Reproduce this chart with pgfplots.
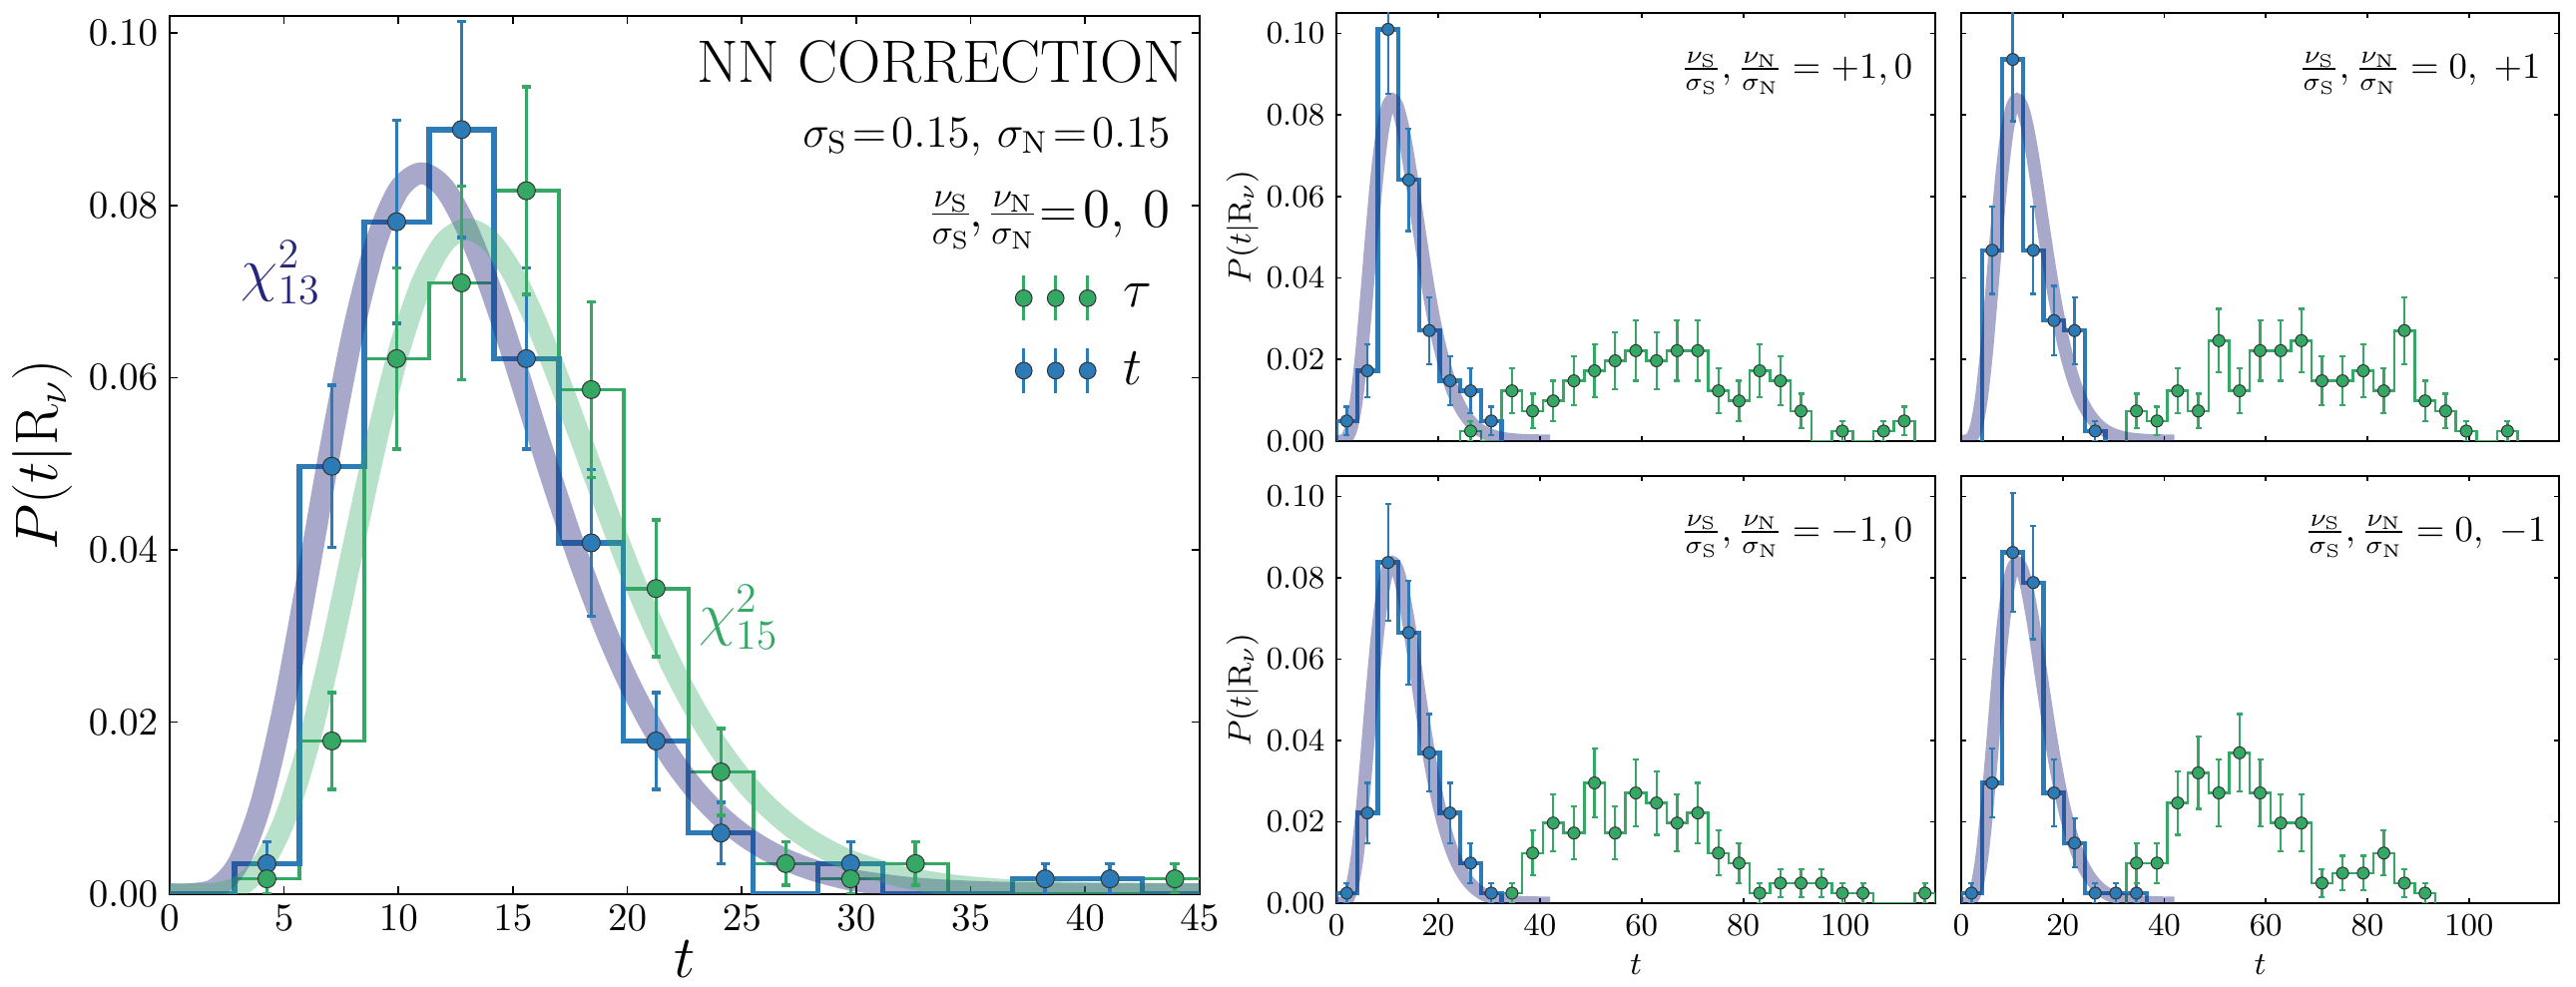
\RequirePackage{fix-cm}
\documentclass[border=0pt]{standalone}
\usepackage{pgfplots}
\usepackage{pgfplotstable}
\pgfplotsset{compat=1.18}

\definecolor{tblue}{RGB}{44,123,182}
\definecolor{tgreen}{RGB}{52,168,100}
\definecolor{chinavy}{RGB}{38,38,125}

% chi-squared densities for k = 13 and k = 15
\pgfplotstableread{
x f13 f15
0 0 0
1 0.0000233 0.0000018
2 0.000639 0.0000984
3 0.00360 0.000832
4 0.01064 0.00327
5 0.02200 0.00846
6 0.03639 0.01680
7 0.05150 0.02773
8 0.06515 0.04009
9 0.07555 0.05229
10 0.08178 0.06292
11 0.08374 0.07087
12 0.08199 0.07571
13 0.07722 0.07724
14 0.07045 0.07586
15 0.06248 0.07208
16 0.05398 0.06647
17 0.04572 0.05978
18 0.03797 0.05260
19 0.03099 0.04533
20 0.02492 0.03834
21 0.01979 0.03194
22 0.01550 0.02623
23 0.01200 0.02124
24 0.00920 0.01699
25 0.00698 0.01343
26 0.00526 0.01051
27 0.00392 0.00815
28 0.00290 0.00625
29 0.00214 0.00477
30 0.00156 0.00360
32 0.00082 0.00202
34 0.00042 0.00110
36 0.00021 0.000587
38 0.000105 0.000307
40 0.000051 0.000158
42 0.0000247 0.0000797
45 0.000008 0.0000279
}\chidens

\pgfplotsset{
  frame/.style={scale only axis, tick align=inside, axis line style={line width=0.8pt},
    tick style={black, line width=0.5pt}, scaled y ticks=false, clip=true,
    yticklabel style={/pgf/number format/.cd, fixed, fixed zerofill, precision=2}},
  panel/.style={frame, width=180pt, height=128.7pt, xmin=0, xmax=117.74, ymin=0, ymax=0.105,
    xtick={0,20,40,60,80,100}, ytick={0,0.02,0.04,0.06,0.08,0.1}, major tick length=1.6pt,
    ticklabel style={font=\fontsize{9.6}{11}\selectfont},
    label style={font=\fontsize{9.6}{11}\selectfont},
    ylabel style={at={(axis description cs:-0.157,0.5)}, anchor=center},
    xlabel style={at={(axis description cs:0.5,-0.143)}, anchor=center}},
  stepb/.style={const plot, mark=none, tblue, line width=#1},
  stepg/.style={const plot, mark=none, tgreen, line width=#1},
  pts/.style n args={4}{only marks, #1, mark=*, mark size=#2,
    mark options={fill=#1, draw=black!80, line width=0.3pt},
    error bars/y dir=both, error bars/y explicit,
    error bars/error bar style={line width=#3, #1},
    error bars/error mark options={rotate=90, #1, mark size=#4, line width=#3}},
  chiband/.style={mark=none, smooth, tension=0.5, line width=#1, opacity=0.4, chinavy},
}
\newcommand{\teq}{\mathrel{\!=\!}}

\begin{document}
\begin{tikzpicture}
\path[use as bounding box] (0,0) rectangle (774.3pt,296.7pt);

% ---------------- main panel ----------------
\begin{axis}[frame, at={(51pt,27.9pt)}, anchor=south west, width=309.6pt, height=264pt,
  xmin=0, xmax=45, ymin=0, ymax=0.102,
  xtick={0,5,10,15,20,25,30,35,40,45}, ytick={0,0.02,0.04,0.06,0.08,0.1},
  major tick length=2.4pt,
  ticklabel style={font=\fontsize{11.7}{14}\selectfont},
  xlabel={$t$}, ylabel={$P(t|\mathrm{R}_\nu)$},
  label style={font=\fontsize{18}{20}\selectfont},
  ylabel style={at={(axis description cs:-0.124,0.5)}, anchor=center},
  xlabel style={at={(axis description cs:0.5,-0.074)}, anchor=center, inner sep=0pt},
  legend style={draw=none, fill=none, at={(0.820,0.707)}, anchor=north west,
    inner sep=0pt, row sep=6.8pt, column sep=6pt, font=\fontsize{16}{18}\selectfont},
  legend cell align=left]

\addlegendimage{legend image code/.code={
  \draw[tgreen, line width=1pt] (0pt,-6.8pt) -- (0pt,6.8pt) (9.6pt,-6.8pt) -- (9.6pt,6.8pt) (19.2pt,-6.8pt) -- (19.2pt,6.8pt);
  \filldraw[fill=tgreen, draw=black!80, line width=0.3pt] (0pt,0pt) circle (2.5pt) (9.6pt,0pt) circle (2.5pt) (19.2pt,0pt) circle (2.5pt);}}
\addlegendentry{$\tau$}
\addlegendimage{legend image code/.code={
  \draw[tblue, line width=1pt] (0pt,-6.8pt) -- (0pt,6.8pt) (9.6pt,-6.8pt) -- (9.6pt,6.8pt) (19.2pt,-6.8pt) -- (19.2pt,6.8pt);
  \filldraw[fill=tblue, draw=black!80, line width=0.3pt] (0pt,0pt) circle (2.5pt) (9.6pt,0pt) circle (2.5pt) (19.2pt,0pt) circle (2.5pt);}}
\addlegendentry{$t$}

% tau histogram (step outline)
\addplot[stepg=1.1pt] table {
0 0
2.833 0.00178
5.667 0.0178
8.5 0.0622
11.333 0.0710
14.167 0.0817
17 0.0586
19.833 0.0355
22.667 0.0142
25.5 0.00355
28.333 0.00178
31.167 0.00355
34 0
42.5 0.00178
45.333 0
};
% t histogram (step outline)
\addplot[stepb=1.6pt] table {
0 0
2.833 0.00355
5.667 0.0497
8.5 0.0781
11.333 0.0888
14.167 0.0622
17 0.0408
19.833 0.0178
22.667 0.0071
25.5 0
28.333 0.00355
31.167 0
36.833 0.00178
39.667 0.00178
42.5 0
45.333 0
};
% chi-squared reference curves
\addplot[chiband=6.5pt] table[x=x, y=f13] {\chidens};
\addplot[chiband=6.5pt, tgreen, opacity=0.35] table[x=x, y=f15] {\chidens};

% bin contents with Poisson errors
\addplot[pts={tblue}{2.7pt}{1.05pt}{1.4pt}] table[y error index=2] {
4.25 0.00355 0.00251
7.083 0.0497 0.0094
9.917 0.0781 0.01178
12.75 0.0888 0.01256
15.583 0.0622 0.01051
18.417 0.0408 0.00852
21.25 0.0178 0.00562
24.083 0.0071 0.00355
29.75 0.00355 0.00251
38.25 0.00178 0.00178
41.083 0.00178 0.00178
};
\addplot[pts={tgreen}{2.7pt}{1.05pt}{1.4pt}] table[y error index=2] {
4.25 0.00178 0.00178
7.083 0.0178 0.00562
9.917 0.0622 0.01051
12.75 0.0710 0.01123
15.583 0.0817 0.01205
18.417 0.0586 0.0102
21.25 0.0355 0.00794
24.083 0.0142 0.00502
26.917 0.00355 0.00251
29.75 0.00178 0.00178
32.583 0.00355 0.00251
43.917 0.00178 0.00178
};

\node[anchor=east, inner sep=0pt, font=\fontsize{18}{20}\selectfont] at (rel axis cs:0.986,0.948) {NN CORRECTION};
\node[anchor=base east, inner sep=0pt, font=\fontsize{13.5}{15}\selectfont] at (rel axis cs:0.972,0.851) {$\sigma_{\mathrm{S}}\teq0.15,\,\sigma_{\mathrm{N}}\teq0.15$};
\node[anchor=base east, inner sep=0pt, font=\fontsize{15}{17}\selectfont] at (rel axis cs:0.972,0.760) {\nulldelimiterspace=0pt$\frac{\nu_{\mathrm{S}}}{\sigma_{\mathrm{S}}},\frac{\nu_{\mathrm{N}}}{\sigma_{\mathrm{N}}}\teq{}$\fontsize{16.5}{18}\selectfont$0,\,0$};
\node[anchor=west, inner sep=0pt, text=chinavy, font=\fontsize{18}{20}\selectfont] at (axis cs:3.1,0.0722) {$\chi^2_{13}$};
\node[anchor=west, inner sep=0pt, text=tgreen, font=\fontsize{18}{20}\selectfont] at (axis cs:23.1,0.0322) {$\chi^2_{15}$};
\end{axis}

% ---------------- top left: +1, 0 ----------------
\begin{axis}[panel, at={(401.7pt,164.1pt)}, anchor=south west, xticklabels={}, ylabel={$P(t|\mathrm{R}_\nu)$}]
\addplot[stepg=0.75pt] table {
24.36 0
24.36 0.00246
28.42 0
32.48 0.01232
36.54 0.00739
40.60 0.00985
44.66 0.01478
48.72 0.01724
52.78 0.01970
56.84 0.02217
60.90 0.01970
64.96 0.02217
69.02 0.02217
73.08 0.01232
77.14 0.00985
81.20 0.01724
85.26 0.01478
89.32 0.00739
93.38 0
97.44 0.00246
101.50 0
105.56 0.00246
109.62 0.00493
113.68 0
};
\addplot[stepb=1.3pt] table {
0 0
0 0.00493
4.06 0.01724
8.12 0.10098
12.18 0.06404
16.24 0.02709
20.30 0.01478
24.36 0.01232
28.42 0.00493
32.48 0
};
\addplot[chiband=3.9pt, restrict x to domain=0:42] table[x=x, y=f13] {\chidens};
\addplot[pts={tblue}{1.8pt}{0.7pt}{0.9pt}] table[y error index=2] {
2.03 0.00493 0.00348
6.09 0.01724 0.00652
10.15 0.10098 0.01577
14.21 0.06404 0.01256
18.27 0.02709 0.00817
22.33 0.01478 0.00603
26.39 0.01232 0.00551
30.45 0.00493 0.00348
};
\addplot[pts={tgreen}{1.8pt}{0.7pt}{0.9pt}] table[y error index=2] {
26.39 0.00246 0.00246
34.51 0.01232 0.00551
38.57 0.00739 0.00427
42.63 0.00985 0.00493
46.69 0.01478 0.00603
50.75 0.01724 0.00652
54.81 0.01970 0.00697
58.87 0.02217 0.00739
62.93 0.01970 0.00697
66.99 0.02217 0.00739
71.05 0.02217 0.00739
75.11 0.01232 0.00551
79.17 0.00985 0.00493
83.23 0.01724 0.00652
87.29 0.01478 0.00603
91.35 0.00739 0.00427
99.47 0.00246 0.00246
107.59 0.00246 0.00246
111.65 0.00493 0.00348
};
\node[anchor=base east, inner sep=0pt, font=\fontsize{11}{13}\selectfont] at (rel axis cs:0.963,0.848) {$\frac{\nu_{\mathrm{S}}}{\sigma_{\mathrm{S}}},\frac{\nu_{\mathrm{N}}}{\sigma_{\mathrm{N}}}=+1,0$};
\end{axis}

% ---------------- top right: 0, +1 ----------------
\begin{axis}[panel, at={(589.5pt,164.1pt)}, anchor=south west, width=179.7pt, xticklabels={}, yticklabels={}]
\addplot[stepg=0.75pt] table {
32.48 0
32.48 0.00739
36.54 0.00493
40.60 0.01232
44.66 0.00739
48.72 0.02463
52.78 0.01232
56.84 0.02217
60.90 0.02217
64.96 0.02463
69.02 0.01478
73.08 0.01478
77.14 0.01724
81.20 0.01232
85.26 0.02709
89.32 0.00985
93.38 0.00739
97.44 0.00246
101.50 0
105.56 0.00246
109.62 0
};
\addplot[stepb=1.3pt] table {
4.06 0
4.06 0.04680
8.12 0.09359
12.18 0.04680
16.24 0.02956
20.30 0.02709
24.36 0.00246
28.42 0
};
\addplot[chiband=3.9pt, restrict x to domain=0:42] table[x=x, y=f13] {\chidens};
\addplot[pts={tblue}{1.8pt}{0.7pt}{0.9pt}] table[y error index=2] {
6.09 0.04680 0.01074
10.15 0.09359 0.01518
14.21 0.04680 0.01074
18.27 0.02956 0.00853
22.33 0.02709 0.00817
26.39 0.00246 0.00246
};
\addplot[pts={tgreen}{1.8pt}{0.7pt}{0.9pt}] table[y error index=2] {
34.51 0.00739 0.00427
38.57 0.00493 0.00348
42.63 0.01232 0.00551
46.69 0.00739 0.00427
50.75 0.02463 0.00779
54.81 0.01232 0.00551
58.87 0.02217 0.00739
62.93 0.02217 0.00739
66.99 0.02463 0.00779
71.05 0.01478 0.00603
75.11 0.01478 0.00603
79.17 0.01724 0.00652
83.23 0.01232 0.00551
87.29 0.02709 0.00817
91.35 0.00985 0.00493
95.41 0.00739 0.00427
99.47 0.00246 0.00246
107.59 0.00246 0.00246
};
\node[anchor=base east, inner sep=0pt, font=\fontsize{11}{13}\selectfont] at (rel axis cs:0.970,0.848) {$\frac{\nu_{\mathrm{S}}}{\sigma_{\mathrm{S}}},\frac{\nu_{\mathrm{N}}}{\sigma_{\mathrm{N}}}=0,\;+1$};
\end{axis}

% ---------------- bottom left: -1, 0 ----------------
\begin{axis}[panel, at={(401.7pt,25.2pt)}, anchor=south west, height=128.4pt, xlabel={$t$}, ylabel={$P(t|\mathrm{R}_\nu)$}]
\addplot[stepg=0.75pt] table {
32.48 0
32.48 0.00246
36.54 0.01232
40.60 0.01970
44.66 0.01724
48.72 0.02956
52.78 0.01724
56.84 0.02709
60.90 0.02463
64.96 0.01970
69.02 0.02217
73.08 0.01232
77.14 0.00985
81.20 0.00246
85.26 0.00493
89.32 0.00493
93.38 0.00493
97.44 0.00246
101.50 0.00246
105.56 0
113.68 0.00246
117.74 0
};
\addplot[stepb=1.3pt] table {
0 0
0 0.00246
4.06 0.02217
8.12 0.08374
12.18 0.06650
16.24 0.03695
20.30 0.02217
24.36 0.00985
28.42 0.00246
32.48 0
};
\addplot[chiband=3.9pt, restrict x to domain=0:42] table[x=x, y=f13] {\chidens};
\addplot[pts={tblue}{1.8pt}{0.7pt}{0.9pt}] table[y error index=2] {
2.03 0.00246 0.00246
6.09 0.02217 0.00739
10.15 0.08374 0.01436
14.21 0.06650 0.01280
18.27 0.03695 0.00954
22.33 0.02217 0.00739
26.39 0.00985 0.00493
30.45 0.00246 0.00246
};
\addplot[pts={tgreen}{1.8pt}{0.7pt}{0.9pt}] table[y error index=2] {
34.51 0.00246 0.00246
38.57 0.01232 0.00551
42.63 0.01970 0.00697
46.69 0.01724 0.00652
50.75 0.02956 0.00853
54.81 0.01724 0.00652
58.87 0.02709 0.00817
62.93 0.02463 0.00779
66.99 0.01970 0.00697
71.05 0.02217 0.00739
75.11 0.01232 0.00551
79.17 0.00985 0.00493
83.23 0.00246 0.00246
87.29 0.00493 0.00348
91.35 0.00493 0.00348
95.41 0.00493 0.00348
99.47 0.00246 0.00246
103.53 0.00246 0.00246
115.71 0.00246 0.00246
};
\node[anchor=base east, inner sep=0pt, font=\fontsize{11}{13}\selectfont] at (rel axis cs:0.963,0.848) {$\frac{\nu_{\mathrm{S}}}{\sigma_{\mathrm{S}}},\frac{\nu_{\mathrm{N}}}{\sigma_{\mathrm{N}}}=-1,0$};
\end{axis}

% ---------------- bottom right: 0, -1 ----------------
\begin{axis}[panel, at={(589.5pt,25.2pt)}, anchor=south west, width=179.7pt, height=128.4pt, yticklabels={}, xlabel={$t$}]
\addplot[stepg=0.75pt] table {
32.48 0
32.48 0.00985
36.54 0.00985
40.60 0.02463
44.66 0.03202
48.72 0.02709
52.78 0.03695
56.84 0.02709
60.90 0.01970
64.96 0.01970
69.02 0.00493
73.08 0.00739
77.14 0.00739
81.20 0.01232
85.26 0.00493
89.32 0.00246
93.38 0
};
\addplot[stepb=1.3pt] table {
0 0
0 0.00246
4.06 0.02956
8.12 0.08621
12.18 0.07882
16.24 0.02709
20.30 0.01478
24.36 0.00246
28.42 0.00246
32.48 0.00246
36.54 0
};
\addplot[chiband=3.9pt, restrict x to domain=0:42] table[x=x, y=f13] {\chidens};
\addplot[pts={tblue}{1.8pt}{0.7pt}{0.9pt}] table[y error index=2] {
2.03 0.00246 0.00246
6.09 0.02956 0.00853
10.15 0.08621 0.01457
14.21 0.07882 0.01393
18.27 0.02709 0.00817
22.33 0.01478 0.00603
26.39 0.00246 0.00246
30.45 0.00246 0.00246
34.51 0.00246 0.00246
};
\addplot[pts={tgreen}{1.8pt}{0.7pt}{0.9pt}] table[y error index=2] {
34.51 0.00985 0.00493
38.57 0.00985 0.00493
42.63 0.02463 0.00779
46.69 0.03202 0.00888
50.75 0.02709 0.00817
54.81 0.03695 0.00954
58.87 0.02709 0.00817
62.93 0.01970 0.00697
66.99 0.01970 0.00697
71.05 0.00493 0.00348
75.11 0.00739 0.00427
79.17 0.00739 0.00427
83.23 0.01232 0.00551
87.29 0.00493 0.00348
91.35 0.00246 0.00246
};
\node[anchor=base east, inner sep=0pt, font=\fontsize{11}{13}\selectfont] at (rel axis cs:0.980,0.848) {$\frac{\nu_{\mathrm{S}}}{\sigma_{\mathrm{S}}},\frac{\nu_{\mathrm{N}}}{\sigma_{\mathrm{N}}}=0,\;-1$};
\end{axis}
\end{tikzpicture}
\end{document}
